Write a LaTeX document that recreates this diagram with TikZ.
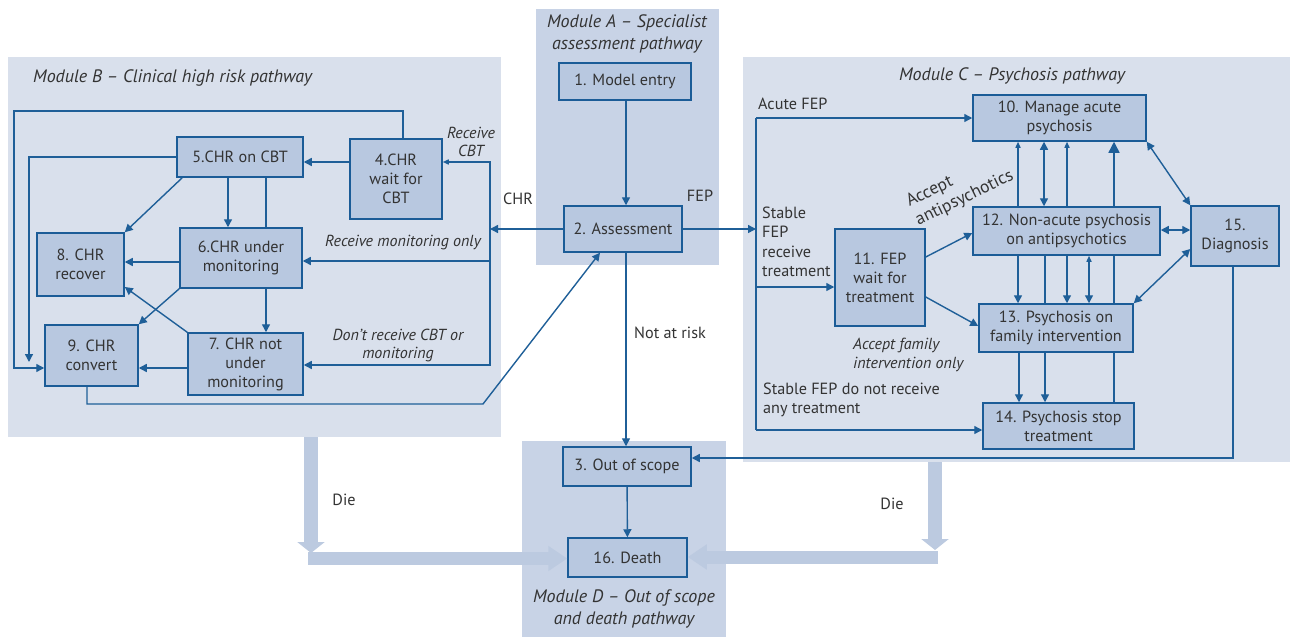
\documentclass[tikz,border=0pt]{standalone}
\usepackage{fontspec}
\setmainfont{PT Sans}
\usetikzlibrary{arrows.meta,calc}
\definecolor{modlight}{HTML}{D9E0EC}
\definecolor{moddark}{HTML}{C8D3E6}
\definecolor{boxfill}{HTML}{B8C8E0}
\definecolor{boxline}{HTML}{1B5C97}
\definecolor{arrowc}{HTML}{1F5F98}
\definecolor{txt}{HTML}{333333}
\definecolor{diec}{HTML}{BCCAE0}
\begin{document}
\begin{tikzpicture}[x=1pt,y=-1pt,
  font=\fontsize{16.2}{19}\selectfont,
  box/.style={draw=boxline, line width=1.5pt, fill=boxfill, text=txt, align=center, inner sep=0pt},
  modbox/.style={inner sep=0pt, anchor=north west, draw=none},
  lab/.style={text=txt, inner sep=0pt},
  itl/.style={lab, font=\fontsize{16}{18}\selectfont\itshape},
  ttl/.style={text=txt, inner sep=0pt, font=\fontsize{18}{22}\selectfont\itshape, align=center},
  ln/.style={draw=arrowc, line width=1.4pt},
  arr/.style={ln, -{Triangle[length=8pt,width=8pt]}},
  arrs/.style={ln, -{Triangle[length=6pt,width=5pt]}},
  arrb/.style={ln, -{Triangle[length=11pt,width=11pt]}},
  darr/.style={ln, {Triangle[length=8pt,width=8pt]}-{Triangle[length=8pt,width=8pt]}},
  darrs/.style={ln, {Triangle[length=6pt,width=5pt]}-{Triangle[length=8pt,width=8pt]}},
  diev/.style={draw=diec, line width=14pt, -{Triangle[length=11pt,width=27pt]}},
  dieh/.style={draw=diec, line width=13pt, -{Triangle[length=19pt,width=24pt]}}
]
\useasboundingbox (0,0) rectangle (1290,637);
% modules
\node[modbox, fill=modlight, minimum width=493pt, minimum height=380pt] (mB) at (8,57) {};
\node[modbox, fill=moddark, minimum width=183pt, minimum height=256pt] (mA) at (536,9) {};
\node[modbox, fill=modlight, minimum width=547pt, minimum height=405pt] (mC) at (743,57) {};
\node[modbox, fill=moddark, minimum width=204pt, minimum height=196pt] (mD) at (522,441) {};
% titles
\node[ttl, anchor=west] (tB) at (33,78) {Module B – Clinical high risk pathway};
\node[ttl] (tA) at (627,34) {Module A – Specialist\\assessment pathway};
\node[ttl] (tC) at (1012,76) {Module C – Psychosis pathway};
\node[ttl] (tD) at (624,609) {Module D – Out of scope\\and death pathway};
% nodes
\node[box, minimum width=132pt, minimum height=37pt] (n1) at (625,81.5) {1. Model entry};
\node[box, minimum width=118pt, minimum height=46pt] (n2) at (623,229) {2. Assessment};
\node[box, minimum width=128pt, minimum height=39pt] (n3) at (627,466.5) {3. Out of scope};
\node[box, minimum width=119pt, minimum height=39pt] (n16) at (627.5,557.5) {16. Death};
\node[box, minimum width=92pt, minimum height=80pt] (n4) at (396,179) {4.CHR\\wait for\\CBT};
\node[box, minimum width=126pt, minimum height=40pt] (n5) at (240,157) {5.CHR on CBT};
\node[box, minimum width=122pt, minimum height=60pt] (n6) at (241,258) {6.CHR under\\monitoring};
\node[box, minimum width=115pt, minimum height=62pt] (n7) at (245.5,364) {7. CHR not\\under\\monitoring};
\node[box, minimum width=87pt, minimum height=63pt] (n8) at (80.5,264.5) {8. CHR\\recover};
\node[box, minimum width=93pt, minimum height=61pt] (n9) at (91.5,355.5) {9. CHR\\convert};
\node[box, minimum width=173pt, minimum height=46pt] (n10) at (1059.5,118) {10. Manage acute\\psychosis};
\node[box, minimum width=90pt, minimum height=97pt] (n11) at (880,277.5) {11. FEP\\wait for\\treatment};
\node[box, minimum width=187pt, minimum height=48pt] (n12) at (1066.5,231) {12. Non-acute psychosis\\on antipsychotics};
\node[box, minimum width=154pt, minimum height=48pt] (n13) at (1056,328) {13. Psychosis on\\family intervention};
\node[box, minimum width=151pt, minimum height=46pt] (n14) at (1058.5,426) {14. Psychosis stop\\treatment};
\node[box, minimum width=88pt, minimum height=60pt] (n15) at (1235,236) {15.\\Diagnosis};
% labels
\node[lab] (lCHR) at (518,199) {CHR};
\node[lab] (lFEP) at (700,196) {FEP};
\node[lab, anchor=west] (lNar) at (634,333) {Not at risk};
\node[lab] (lDie1) at (344,500) {Die};
\node[lab] (lDie2) at (892,504) {Die};
\node[itl, align=center] (lRC) at (471,142) {Receive\\CBT};
\node[itl] (lRM) at (403,243) {Receive monitoring only};
\node[itl, align=center] (lDR) at (398,345) {Don’t receive CBT or\\monitoring};
\node[lab, anchor=west] (lAF) at (758,104) {Acute FEP};
\node[lab, anchor=west, align=left, font=\fontsize{16.2}{19.5}\selectfont] (lSF) at (762,242) {Stable\\FEP\\receive\\treatment};
\node[lab, anchor=west, align=left] (lSN) at (763,400) {Stable FEP do not receive\\any treatment};
\node[lab, anchor=west, align=left, font=\fontsize{16}{19}\selectfont\itshape] (lFI) at (853,355) {Accept family\\intervention only};
\node[lab, rotate=26, align=left, font=\fontsize{17.5}{21}\selectfont] (lAA) at (960,189) {Accept\\antipsychotics};
% coordinates
\coordinate (jB) at (490,229);
\coordinate (jC) at (756,229);
\coordinate (e5) at (29,362);
\coordinate (dv1) at (311,553);
\coordinate (dh1) at (308,558.5);
\coordinate (dv2) at (935,550);
\coordinate (dh2) at (938,557);
% die arrows
\draw[diev] (mB.south -| dv1) -- (dv1);
\draw[dieh] (dh1) -- (n16.west |- dh1);
\draw[diev] (mC.south -| dv2) -- (dv2);
\draw[dieh] (dh2) -- (n16.east |- dh2);
% module B edges
\draw[arr] (n4.north -| 403,0) |- (14,111) |- (n9.west |- 0,368);
\draw[arr] (n5.west) -| (e5);
\draw[arr] (n4.west |- 0,162) -- (n5.east |- 0,162);
\draw[arr] (n2.west) -- (jB);
\draw[arrs] (jB) |- (n4.east |- 0,162);
\draw[arr] (jB) |- (n7.east |- 0,365);
\draw[arr] (jB |- 0,261) -- (n6.east |- 0,261);
\draw[arr] (n5.south -| 228,0) -- (n6.north -| 228,0);
\draw[ln] (n5.south -| 266,0) -- (n6.north -| 266,0);
\draw[arr] ([xshift=6pt]n5.south west) -- (n8.north east);
\draw[arr] (n6.west |- 0,262) -- (n8.east |- 0,262);
\draw[arr] (n6.south west) -- (n9.north east);
\draw[arr] (n7.north west) -- (n8.east |- 0,287);
\draw[arr] (n6.south -| 266,0) -- (n7.north -| 266,0);
\draw[arr] (n7.west |- 0,368) -- (n9.east |- 0,368);
\draw[arr] (n9.south -| 87,0) |- (483,404) -- (n2.south -| 600,0);
% module A / D edges
\draw[arr] (n1.south -| 626,0) -- (n2.north -| 626,0);
\draw[arr] (n2.east) -- (jC);
\draw[arr] (n2.south -| 626,0) -- (n3.north -| 626,0);
\draw[arr] (n3) -- (n16);
% module C edges
\draw[ln] (jC |- 0,118) -- (jC |- 0,430);
\draw[arr] (jC |- 0,118) -- (n10.west |- 0,118);
\draw[arr] (jC |- 0,287) -- (n11.west |- 0,287);
\draw[arr] (jC |- 0,430) -- (n14.west |- 0,430);
\draw[arr] (n11.east |- 0,257) -- (n12.west |- 0,233);
\draw[arr] (n11.east |- 0,297) -- (n13.west |- 0,326);
\draw[arrs] (n12.north -| 1018,0) -- (n10.south -| 1018,0);
\draw[darr] (n12.north -| 1044,0) -- (n10.south -| 1044,0);
\draw[arrs] (n12.north -| 1067,0) -- (n10.south -| 1067,0);
\draw[arrb] (n12.north -| 1114,0) -- (n10.south -| 1114,0);
\draw[arr] (n12.south -| 1018,0) -- (n13.north -| 1018,0);
\draw[ln] (n12.south -| 1045,0) -- (n13.north -| 1045,0);
\draw[arr] (n12.south -| 1067,0) -- (n13.north -| 1067,0);
\draw[darrs] (n12.south -| 1089,0) -- (n13.north -| 1089,0);
\draw[ln] (n12.south -| 1114,0) -- (n13.north -| 1114,0);
\draw[arr] (n13.south -| 1019,0) -- (n14.north -| 1019,0);
\draw[arr] (n13.south -| 1045,0) -- (n14.north -| 1045,0);
\draw[ln] (n13.south -| 1114,0) -- (n14.north -| 1114,0);
\draw[darr] (n10.south east) -- (n15.north west);
\draw[darr] (n12.east |- 0,230) -- (n15.west |- 0,230);
\draw[darr] (n15.west |- 0,249) -- (n13.north east);
\draw[arr] (n15.south -| 1233,0) |- (n3.east |- 0,458);
\end{tikzpicture}
\end{document}
